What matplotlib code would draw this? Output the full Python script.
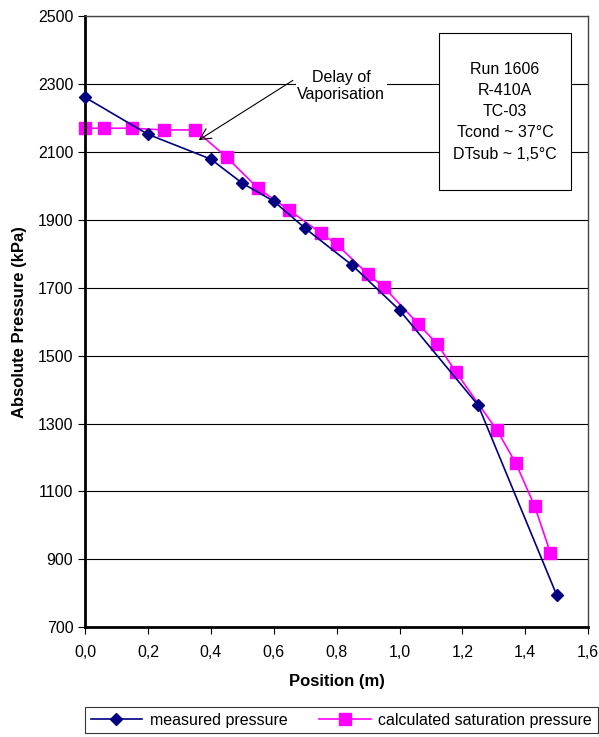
import matplotlib.pyplot as plt
from matplotlib.patches import Rectangle
from matplotlib.ticker import FuncFormatter

plt.rcParams['font.family'] = ['Liberation Sans', 'DejaVu Sans']

# measured pressure
pos_meas = [0.0, 0.2, 0.4, 0.5, 0.6, 0.7, 0.85, 1.0, 1.25, 1.5]
p_meas = [2261, 2152, 2079, 2008, 1955, 1875, 1766, 1634, 1354, 794]

# calculated saturation pressure
pos_sat = [0.0, 0.06, 0.15, 0.25, 0.35, 0.45, 0.55, 0.65, 0.75, 0.8, 0.9, 0.95,
           1.06, 1.12, 1.18, 1.31, 1.37, 1.43, 1.48]
p_sat = [2170, 2170, 2170, 2165, 2165, 2085, 1993, 1928, 1861, 1828, 1740, 1702,
         1593, 1534, 1451, 1280, 1183, 1056, 918]

fig = plt.figure(figsize=(5.99, 7.37), dpi=100)
ax = fig.add_axes([0.142, 0.149, 0.840, 0.829])

ax.plot(pos_meas, p_meas, color='#000080', marker='D', markersize=6.5,
        linewidth=1.2, label='measured pressure', zorder=3, clip_on=False)
ax.plot(pos_sat, p_sat, color='#FF00FF', marker='s', markersize=9,
        linewidth=1.2, label='calculated saturation pressure', zorder=2, clip_on=False)

ax.set_xlim(0, 1.6)
ax.set_ylim(700, 2500)
ax.set_xticks([i * 0.2 for i in range(9)])
ax.set_yticks(range(700, 2501, 200))
ax.xaxis.set_major_formatter(FuncFormatter(lambda v, p: f'{v:.1f}'.replace('.', ',')))
ax.yaxis.grid(True, color='black', linewidth=0.8)
ax.set_axisbelow(True)
ax.tick_params(direction='out', length=5, labelsize=11.5)
ax.tick_params(axis='x', pad=8)

for s in ['top', 'right']:
    ax.spines[s].set_color('#444444')
    ax.spines[s].set_linewidth(1.0)
ax.spines['left'].set_linewidth(2.0)
ax.spines['bottom'].set_linewidth(2.0)

ax.set_xlabel('Position (m)', fontsize=12, fontweight='bold', labelpad=10)
ax.set_ylabel('Absolute Pressure (kPa)', fontsize=12, fontweight='bold', labelpad=8)

ax.text(0.815, 2295, 'Delay of\nVaporisation', ha='center', va='center',
        fontsize=11.5, linespacing=1.2,
        bbox=dict(boxstyle='square,pad=0.1', fc='white', ec='none'))
ax.annotate('', xy=(0.361, 2135), xytext=(0.661, 2311),
            arrowprops=dict(arrowstyle='->', color='black', lw=0.8,
                            shrinkA=0, shrinkB=0, mutation_scale=20))

# info box
ax.add_patch(Rectangle((1.124, 1987), 0.422, 463, fc='white', ec='black',
                       lw=0.8, zorder=4))
ax.text(1.335, 2219, 'Run 1606\nR-410A\nTC-03\nTcond ~ 37°C\nDTsub ~ 1,5°C',
        ha='center', va='center', fontsize=11.5, linespacing=1.52, zorder=5)

leg = fig.legend(loc='lower center', bbox_to_anchor=(0.570, -0.006), ncol=2,
                 frameon=True, fancybox=False, edgecolor='black', fontsize=11.5,
                 handlelength=3.2, handletextpad=0.5, columnspacing=2.0,
                 borderpad=0.35)
leg.get_frame().set_linewidth(0.8)

fig.savefig('out.png', dpi=100)
